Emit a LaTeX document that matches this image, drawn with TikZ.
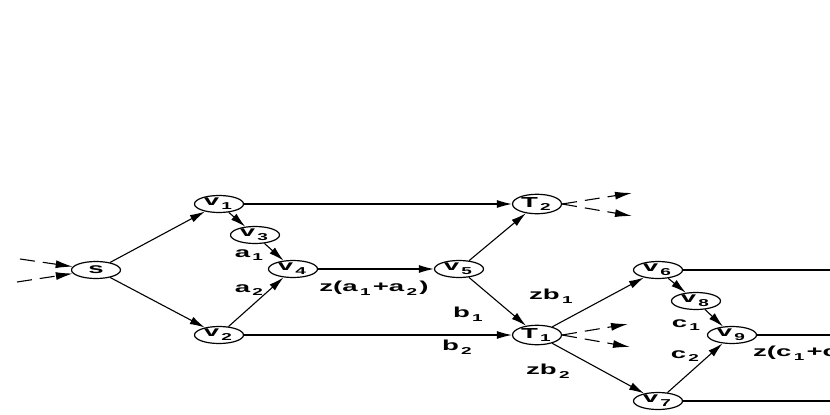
\documentclass[tikz,border=0pt]{standalone}
\usepackage{fontspec}
\setmainfont{Liberation Sans}
\usetikzlibrary{shapes.geometric,arrows.meta}
\newcommand\mysub[1]{\kern1.2pt\raisebox{-3.8pt}{\fontsize{10}{10}\selectfont #1}\kern1.2pt}
\newcommand\lbl[1]{\scalebox{1.9}[1]{\fontsize{14.5}{14.5}\selectfont\bfseries #1}}
\begin{document}
\begin{tikzpicture}[x=1pt,y=-1pt,
  vnode/.style={draw,ellipse,line width=1.2pt,minimum width=49pt,minimum height=17pt,inner sep=0pt},
  arr/.style={line width=1.1pt,-{Latex[length=15pt,width=8pt]}},
  pln/.style={line width=1.1pt},
  dsh/.style={line width=1.1pt,dash pattern=on 15pt off 8pt,-{Latex[length=17pt,width=8pt]}},
  lab/.style={inner sep=0pt}]
\useasboundingbox (0,0) rectangle (830,415);
\clip (0,0) rectangle (830,415);
\node[vnode] (s) at (96,270) {\lbl{s}};
\node[vnode] (v1) at (219,204) {\lbl{v\mysub{1}}};
\node[vnode] (v3) at (255,235) {\lbl{v\mysub{3}}};
\node[vnode] (v4) at (293,269) {\lbl{v\mysub{4}}};
\node[vnode] (v2) at (219,335) {\lbl{v\mysub{2}}};
\node[vnode] (v5) at (459,269) {\lbl{v\mysub{5}}};
\node[vnode] (T2) at (537,204) {\lbl{T\mysub{2}}};
\node[vnode] (T1) at (537,335) {\lbl{T\mysub{1}}};
\node[vnode] (v6) at (658,270) {\lbl{v\mysub{6}}};
\node[vnode] (v8) at (696,301) {\lbl{v\mysub{8}}};
\node[vnode] (v9) at (732,335) {\lbl{v\mysub{9}}};
\node[vnode] (v7) at (658,401) {\lbl{v\mysub{7}}};
\coordinate (i1) at (20,259);
\coordinate (i2) at (17,282);
\coordinate (o1) at (632,193);
\coordinate (o2) at (632,216);
\coordinate (o3) at (628,324);
\coordinate (o4) at (630,347);
\coordinate (e6) at (840,270);
\coordinate (e9) at (840,335);
\coordinate (e7) at (840,401);
\draw[dsh] (i1) -- (s);
\draw[dsh] (i2) -- (s);
\draw[arr] (s) -- (v1);
\draw[arr] (s) -- (v2);
\draw[arr] (v1) -- (v3);
\draw[arr] (v3) -- (v4);
\draw[arr] (v2) -- (v4);
\draw[arr] (v1) -- (T2);
\draw[arr] (v2) -- (T1);
\draw[arr] (v4) -- (v5);
\draw[arr] (v5) -- (T2);
\draw[arr] (v5) -- (T1);
\draw[dsh] (T2.east) -- (o1);
\draw[dsh] (T2.east) -- (o2);
\draw[dsh] (T1.east) -- (o3);
\draw[dsh] (T1.east) -- (o4);
\draw[arr] (T1) -- (v6);
\draw[arr] (T1) -- (v7);
\draw[arr] (v6) -- (v8);
\draw[arr] (v8) -- (v9);
\draw[arr] (v7) -- (v9);
\draw[pln] (v6) -- (e6);
\draw[pln] (v9) -- (e9);
\draw[pln] (v7) -- (e7);
\node[lab] (la1) at (250,255) {\lbl{a\mysub{1}}};
\node[lab] (la2) at (250,290) {\lbl{a\mysub{2}}};
\node[lab] (lz) at (374,288) {\lbl{z(a\mysub{1}+a\mysub{2})}};
\node[lab] (lb1) at (469,314) {\lbl{b\mysub{1}}};
\node[lab] (lb2) at (458,347) {\lbl{b\mysub{2}}};
\node[lab] (lzb1) at (552,296) {\lbl{zb\mysub{1}}};
\node[lab] (lzb2) at (549,371) {\lbl{zb\mysub{2}}};
\node[lab] (lc1) at (687,325) {\lbl{c\mysub{1}}};
\node[lab] (lc2) at (686,356) {\lbl{c\mysub{2}}};
\node[lab,anchor=west] (lzc) at (753,353) {\lbl{z(c\mysub{1}+c\mysub{2})}};
\end{tikzpicture}
\end{document}
